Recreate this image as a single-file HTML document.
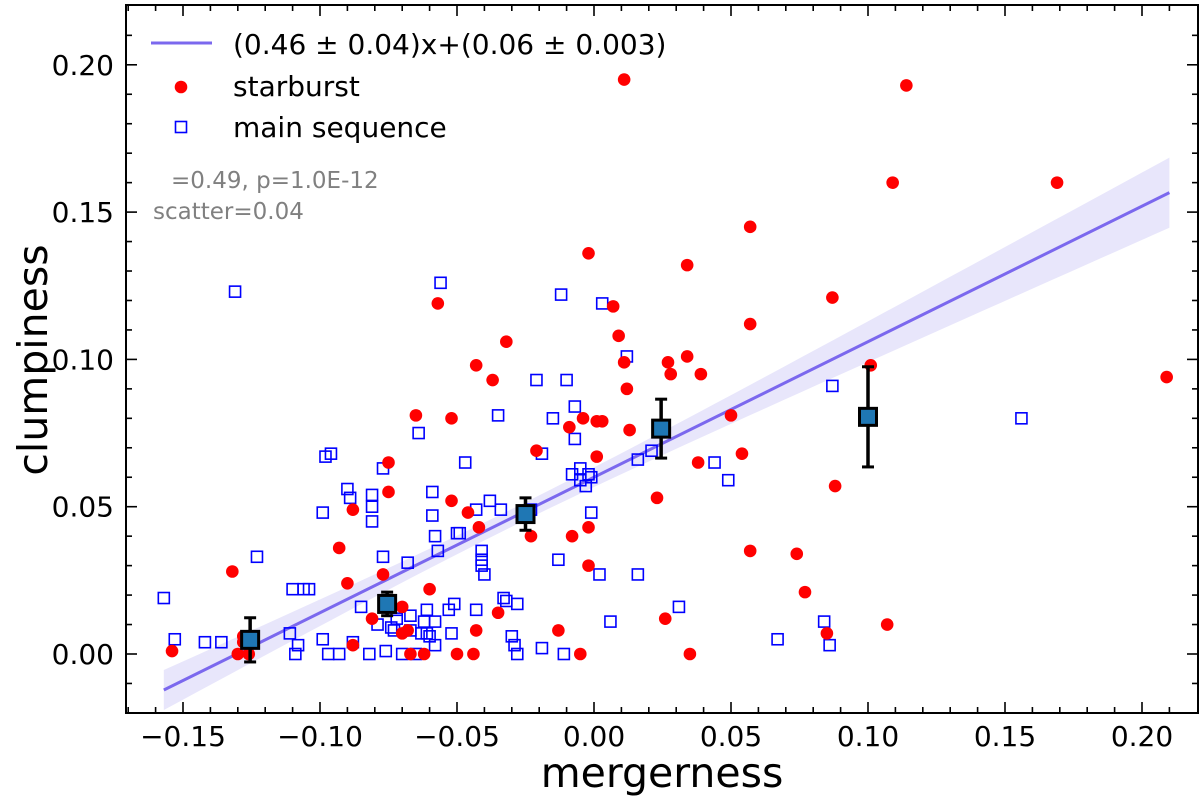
<!DOCTYPE html>
<html><head><meta charset="utf-8"><style>
html,body{margin:0;padding:0;background:#fff;}
svg text{font-family:"DejaVu Sans","Liberation Sans",sans-serif;}
</style></head><body>
<svg id="chart" width="1200" height="802" xmlns="http://www.w3.org/2000/svg">
<g id="plot"></g>
</svg>
<script>
const starX=[-0.154,-0.132,-0.128,-0.128,-0.130,-0.126,-0.093,-0.090,-0.088,-0.088,-0.081,-0.077,-0.075,-0.075,-0.070,-0.070,-0.068,-0.067,-0.065,-0.062,-0.060,-0.057,-0.052,-0.052,-0.050,-0.046,-0.044,-0.043,-0.043,-0.042,-0.037,-0.035,-0.032,-0.023,-0.021,-0.013,-0.009,-0.008,-0.005,-0.004,-0.002,-0.002,-0.002,0.001,0.001,0.003,0.007,0.009,0.011,0.011,0.012,0.013,0.023,0.026,0.027,0.028,0.034,0.034,0.035,0.038,0.039,0.050,0.054,0.057,0.057,0.057,0.074,0.077,0.085,0.087,0.088,0.101,0.107,0.109,0.114,0.169,0.209];
const starY=[0.001,0.028,0.006,0.004,0,0,0.036,0.024,0.049,0.003,0.012,0.027,0.065,0.055,0.016,0.007,0.008,0,0.081,0,0.022,0.119,0.052,0.080,0,0.048,0,0.098,0.008,0.043,0.093,0.014,0.106,0.040,0.069,0.008,0.077,0.040,0,0.080,0.043,0.136,0.030,0.067,0.079,0.079,0.118,0.108,0.195,0.099,0.090,0.076,0.053,0.012,0.099,0.095,0.132,0.101,0,0.065,0.095,0.081,0.068,0.035,0.145,0.112,0.034,0.021,0.007,0.121,0.057,0.098,0.010,0.160,0.193,0.160,0.094];
const msX=[-0.157,-0.153,-0.142,-0.136,-0.131,-0.123,-0.110,-0.109,-0.108,-0.106,-0.104,-0.111,-0.099,-0.097,-0.099,-0.098,-0.096,-0.093,-0.090,-0.089,-0.088,-0.085,-0.082,-0.081,-0.081,-0.081,-0.079,-0.077,-0.077,-0.076,-0.074,-0.073,-0.072,-0.072,-0.070,-0.068,-0.067,-0.067,-0.065,-0.063,-0.064,-0.062,-0.061,-0.061,-0.060,-0.059,-0.059,-0.058,-0.058,-0.058,-0.057,-0.056,-0.053,-0.052,-0.051,-0.050,-0.049,-0.047,-0.043,-0.043,-0.041,-0.041,-0.041,-0.040,-0.038,-0.035,-0.034,-0.033,-0.032,-0.030,-0.029,-0.028,-0.028,-0.023,-0.021,-0.019,-0.019,-0.013,-0.011,-0.012,-0.010,-0.008,-0.007,-0.015,-0.007,-0.005,-0.005,-0.003,-0.002,-0.001,-0.001,0.002,0.003,0.006,0.012,0.016,0.016,0.021,0.031,0.044,0.049,0.067,0.084,0.086,0.087,0.156];
const msY=[0.019,0.005,0.004,0.004,0.123,0.033,0.022,0,0.003,0.022,0.022,0.007,0.005,0,0.048,0.067,0.068,0,0.056,0.053,0.004,0.016,0,0.054,0.050,0.045,0.010,0.033,0.063,0.001,0.009,0.008,0.015,0.012,0,0.031,0.013,0.008,0,0.007,0.075,0.011,0.015,0.007,0.006,0.055,0.047,0.040,0.011,0.003,0.035,0.126,0.015,0.007,0.017,0.041,0.041,0.065,0.049,0.015,0.035,0.032,0.030,0.027,0.052,0.081,0.049,0.019,0.018,0.006,0.003,0.017,0,0.049,0.093,0.068,0.002,0.032,0,0.122,0.093,0.061,0.084,0.080,0.073,0.063,0.059,0.057,0.061,0.048,0.060,0.027,0.119,0.011,0.101,0.066,0.027,0.069,0.016,0.065,0.059,0.005,0.011,0.003,0.091,0.080];
const binX=[-0.1255,-0.0755,-0.025,0.0245,0.100];
const binY=[0.0048,0.017,0.0475,0.0765,0.0805];
const binErr=[0.0075,0.004,0.0055,0.010,0.017];
const fitSlope=0.46, fitIntercept=0.06;
const xTicks=[-0.15,-0.10,-0.05,0.00,0.05,0.10,0.15,0.20];
const yTicks=[0.00,0.05,0.10,0.15,0.20];

const L=126,R=1198,T=5,B=713;
const X=v=>594+v*2740, Y=v=>654-v*2946;
const NS="http://www.w3.org/2000/svg";
const svg=document.getElementById('chart');
function mk(tag,attrs,parent){const e=document.createElementNS(NS,tag);for(const k in attrs)e.setAttribute(k,attrs[k]);(parent||svg).appendChild(e);return e;}

const x0=-0.157,x1=0.21,n=60;let up=[],dn=[];
for(let i=0;i<=n;i++){const x=x0+(x1-x0)*i/n;const h=Math.sqrt(0.003*0.003+Math.pow(0.048*(x+0.03),2));const y=fitSlope*x+fitIntercept;up.push(X(x)+','+Y(y+h));dn.unshift(X(x)+','+Y(y-h));}
const band=mk('polygon',{points:up.concat(dn).join(' '),fill:'#e8e6fb',stroke:'none'});


const fl=mk('line',{x1:X(x0),y1:Y(fitSlope*x0+fitIntercept),x2:X(x1),y2:Y(fitSlope*x1+fitIntercept),stroke:'#7b68ee','stroke-width':3});



for(let i=0;i<msX.length;i++){const r=mk('rect',{x:X(msX[i])-5.5,y:Y(msY[i])-5.5,width:11,height:11,fill:'none',stroke:'#0000ff','stroke-width':1.6});

}
for(let i=0;i<starX.length;i++){const c=mk('circle',{cx:X(starX[i]),cy:Y(starY[i]),r:6.3,fill:'#ff0000'});

}
for(let i=0;i<binX.length;i++){const cx=X(binX[i]),yt=Y(binY[i]+binErr[i]),yb=Y(binY[i]-binErr[i]);
const g=mk('g',{});


mk('line',{x1:cx,y1:yt,x2:cx,y2:yb,stroke:'#000','stroke-width':3.5},g);
mk('line',{x1:cx-6,y1:yt,x2:cx+6,y2:yt,stroke:'#000','stroke-width':3},g);
mk('line',{x1:cx-6,y1:yb,x2:cx+6,y2:yb,stroke:'#000','stroke-width':3},g);
mk('rect',{x:cx-8.5,y:Y(binY[i])-8.5,width:17,height:17,fill:'#1f77b4',stroke:'#000','stroke-width':3},g);}

const fr=mk('rect',{x:L,y:T,width:R-L,height:B-T,fill:'none',stroke:'#000','stroke-width':2});


for(let v=-0.17;v<=0.22;v+=0.01){const vv=Math.round(v*100)/100;const px=X(vv);if(px<L||px>R)continue;const major=Math.abs(vv*20-Math.round(vv*20))<1e-6;const len=major?11:6;
mk('line',{x1:px,y1:B,x2:px,y2:B-len,stroke:'#000','stroke-width':1.6});mk('line',{x1:px,y1:T,x2:px,y2:T+len,stroke:'#000','stroke-width':1.6});}
for(let v=-0.02;v<=0.22;v+=0.01){const vv=Math.round(v*100)/100;const py=Y(vv);if(py<T||py>B)continue;const major=Math.abs(vv*20-Math.round(vv*20))<1e-6;const len=major?11:6;
mk('line',{x1:L,y1:py,x2:L+len,y2:py,stroke:'#000','stroke-width':1.6});mk('line',{x1:R,y1:py,x2:R-len,y2:py,stroke:'#000','stroke-width':1.6});}
xTicks.forEach(v=>{const t=mk('text',{x:X(v),y:746,'text-anchor':'middle','font-size':28});t.textContent=(v<0?'\u2212':'')+Math.abs(v).toFixed(2);

});
yTicks.forEach(v=>{const t=mk('text',{x:114,y:Y(v)+10,'text-anchor':'end','font-size':28});t.textContent=v.toFixed(2);

});
</script>
<svg style="position:absolute;left:0;top:0" width="1200" height="802" xmlns="http://www.w3.org/2000/svg">
<text x="662" y="787" text-anchor="middle" font-size="41">mergerness</text>
<text transform="translate(47,360) rotate(-90)" text-anchor="middle" font-size="41">clumpiness</text>
<g>
<line x1="151" y1="43" x2="212" y2="43" stroke="#7b68ee" stroke-width="3"/>
<text x="233" y="54" font-size="28">(0.46 ± 0.04)x+(0.06 ± 0.003)</text>
<circle cx="181" cy="87" r="6.3" fill="#ff0000"/>
<text x="233" y="96" font-size="28">starburst</text>
<rect x="175.5" y="121.5" width="11" height="11" fill="none" stroke="#0000ff" stroke-width="1.6"/>
<text x="233" y="137" font-size="28">main sequence</text>
</g>
<text x="171" y="188" font-size="23" fill="#808080">=0.49, p=1.0E-12</text>
<text x="153" y="219" font-size="23" fill="#808080">scatter=0.04</text>
</svg>
</body></html>
